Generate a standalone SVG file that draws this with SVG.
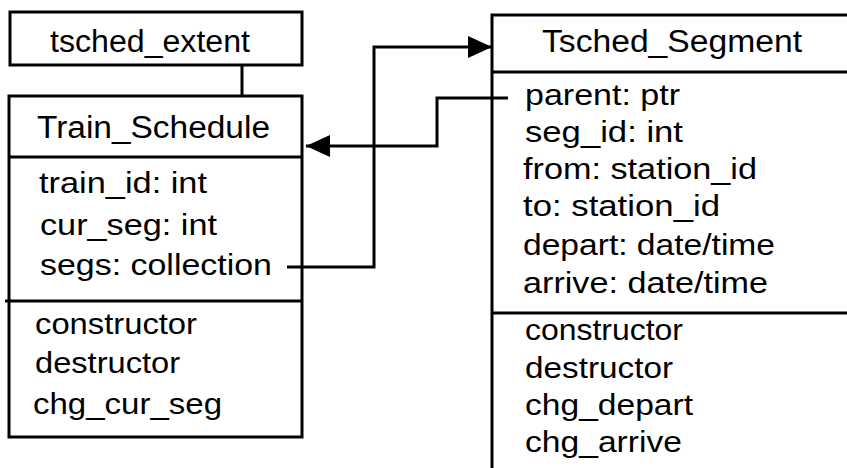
<svg xmlns="http://www.w3.org/2000/svg" width="847" height="468" viewBox="0 0 847 468">
<style>
.box{fill:none;stroke:#000;stroke-width:3}
.ln{fill:none;stroke:#000;stroke-width:3}
.t{font-family:"Liberation Sans",Arial,sans-serif;fill:#000;font-size:29.5px}
.h{font-family:"Liberation Sans",Arial,sans-serif;fill:#000;font-size:31px}
</style>
<defs>
<marker id="ah" markerUnits="userSpaceOnUse" markerWidth="26" markerHeight="24" refX="24" refY="11" orient="auto">
<path d="M0,0 L24,11 L0,22 Z" fill="#000"/>
</marker>
</defs>
<rect width="847" height="468" fill="#fff"/>
<g id="tsched_extent">
<rect class="box" x="10" y="12" width="292" height="53"/>
<text class="h" x="50" y="52" textLength="200" lengthAdjust="spacingAndGlyphs">tsched_extent</text>
</g>
<g id="Train_Schedule">
<rect class="box" x="9" y="96" width="293" height="341"/>
<line class="ln" x1="9" y1="157" x2="302" y2="157"/>
<line class="ln" x1="5" y1="301" x2="302" y2="301"/>
<text class="h" x="37" y="138" textLength="233" lengthAdjust="spacingAndGlyphs">Train_Schedule</text>
<text class="t" x="39" y="193" textLength="168" lengthAdjust="spacingAndGlyphs">train_id: int</text>
<text class="t" x="40" y="235" textLength="177" lengthAdjust="spacingAndGlyphs">cur_seg: int</text>
<text class="t" x="40" y="275" textLength="232" lengthAdjust="spacingAndGlyphs">segs: collection</text>
<text class="t" x="35" y="334" textLength="162" lengthAdjust="spacingAndGlyphs">constructor</text>
<text class="t" x="35" y="373" textLength="145" lengthAdjust="spacingAndGlyphs">destructor</text>
<text class="t" x="33" y="414" textLength="189" lengthAdjust="spacingAndGlyphs">chg_cur_seg</text>
</g>
<g id="Tsched_Segment">
<path class="box" d="M850,15 H492 V470"/>
<line class="ln" x1="492" y1="72" x2="850" y2="72"/>
<line class="ln" x1="492" y1="313" x2="850" y2="313"/>
<text class="h" x="542" y="52" textLength="260" lengthAdjust="spacingAndGlyphs">Tsched_Segment</text>
<text class="t" x="525" y="105" textLength="155" lengthAdjust="spacingAndGlyphs">parent: ptr</text>
<text class="t" x="525" y="142" textLength="158" lengthAdjust="spacingAndGlyphs">seg_id: int</text>
<text class="t" x="523" y="179" textLength="234" lengthAdjust="spacingAndGlyphs">from: station_id</text>
<text class="t" x="523" y="216" textLength="197" lengthAdjust="spacingAndGlyphs">to: station_id</text>
<text class="t" x="523" y="255" textLength="252" lengthAdjust="spacingAndGlyphs">depart: date/time</text>
<text class="t" x="523" y="293" textLength="245" lengthAdjust="spacingAndGlyphs">arrive: date/time</text>
<text class="t" x="525" y="340" textLength="158" lengthAdjust="spacingAndGlyphs">constructor</text>
<text class="t" x="525" y="378" textLength="148" lengthAdjust="spacingAndGlyphs">destructor</text>
<text class="t" x="525" y="415" textLength="168" lengthAdjust="spacingAndGlyphs">chg_depart</text>
<text class="t" x="525" y="452" textLength="157" lengthAdjust="spacingAndGlyphs">chg_arrive</text>
</g>
<g id="connectors">
<line class="ln" x1="242" y1="65" x2="242" y2="96"/>
<path class="ln" d="M287,267 H374 V47 H492" marker-end="url(#ah)"/>
<path class="ln" d="M508,98 H437 V146 H306" marker-end="url(#ah)"/>
</g>
</svg>
